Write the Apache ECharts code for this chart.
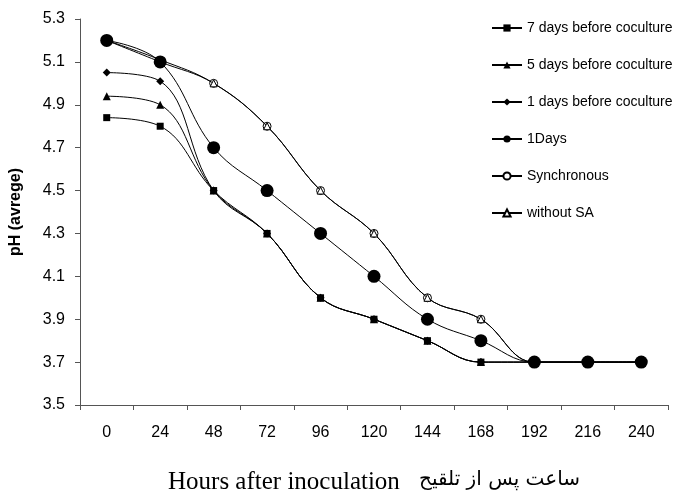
<!DOCTYPE html>
<html>
<head>
<meta charset="utf-8">
<script src="https://cdn.jsdelivr.net/npm/echarts@6/dist/echarts.min.js"></script>
<style>
  html, body { margin: 0; padding: 0; background: #fff; }
  #chart { width: 677px; height: 495px; }
</style>
</head>
<body>
<div id="chart"></div>
<script>
// Sampling times (hours after inoculation)
const hours = ['0', '24', '48', '72', '96', '120', '144', '168', '192', '216', '240'];

// Average pH per treatment
const sevenDaysBefore = [4.84, 4.80, 4.50, 4.30, 4.00, 3.90, 3.80, 3.70, 3.70, 3.70, 3.70];
const fiveDaysBefore  = [4.94, 4.90, 4.50, 4.30, 4.00, 3.90, 3.80, 3.70, 3.70, 3.70, 3.70];
const oneDayBefore    = [5.05, 5.01, 4.50, 4.30, 4.00, 3.90, 3.80, 3.70, 3.70, 3.70, 3.70];
const oneDays         = [5.20, 5.10, 4.70, 4.50, 4.30, 4.10, 3.90, 3.80, 3.70, 3.70, 3.70];
const synchronous     = [5.20, 5.10, 5.00, 4.80, 4.50, 4.30, 4.00, 3.90, 3.70, 3.70, 3.70];
const withoutSA       = [5.20, 5.11, 5.00, 4.80, 4.50, 4.30, 4.00, 3.90, 3.70, 3.70, 3.70];

const yTicks = { min: 3.5, max: 5.3, interval: 0.2 };

const SANS = 'Liberation Sans, Arial, sans-serif';

function lineSeries(name, data, symbol, size, filled, z) {
  return {
    name: name,
    type: 'line',
    data: data,
    smooth: 0.4,
    symbol: symbol,
    symbolSize: size,
    showAllSymbol: true,
    z: z,
    lineStyle: { color: '#000', width: 1 },
    itemStyle: filled
      ? { color: '#000', borderColor: '#000', borderWidth: 0 }
      : { color: '#fff', borderColor: '#000', borderWidth: 1 },
    emphasis: { disabled: true }
  };
}

const chart = echarts.init(document.getElementById('chart'), null, { renderer: 'canvas' });

chart.setOption({
  animation: false,
  backgroundColor: '#fff',
  grid: { left: 78, right: 9, top: 19, bottom: 90, containLabel: false },
  legend: {
    orient: 'vertical',
    left: 486,
    top: 16,
    itemWidth: 30,
    itemHeight: 9,
    itemGap: 23,
    icon: null,
    textStyle: { fontFamily: SANS, fontSize: 14, color: '#000' },
    data: ['7 days before coculture', '5 days before coculture', '1 days before coculture',
           '1Days', 'Synchronous', 'without SA']
  },
  xAxis: {
    type: 'category',
    data: hours,
    boundaryGap: true,
    axisLine: { lineStyle: { color: '#555', width: 1 } },
    axisTick: { show: true, length: 5, lineStyle: { color: '#555' } },
    axisLabel: { fontFamily: SANS, fontSize: 16, color: '#000', margin: 20 },
    splitLine: { show: false }
  },
  yAxis: {
    type: 'value',
    min: yTicks.min,
    max: yTicks.max,
    interval: yTicks.interval,
    name: 'pH (avrege)',
    nameLocation: 'middle',
    nameGap: 56,
    nameTextStyle: { fontFamily: SANS, fontSize: 16, fontWeight: 'bold', color: '#000' },
    axisLine: { show: true, lineStyle: { color: '#555', width: 1 } },
    axisTick: { show: true, length: 5, lineStyle: { color: '#555' } },
    axisLabel: {
      fontFamily: SANS, fontSize: 16, color: '#000', margin: 15,
      formatter: v => v.toFixed(1)
    },
    splitLine: { show: false }
  },
  graphic: [
    {
      type: 'text',
      left: 168,
      top: 470,
      style: {
        text: 'Hours after inoculation',
        font: '25px "Liberation Serif", "Times New Roman", serif',
        fill: '#000'
      }
    },
    {
      type: 'text',
      right: 97,
      top: 470,
      style: {
        text: 'ساعت پس از تلقیح',
        font: '20px "DejaVu Sans", serif',
        fill: '#000'
      }
    }
  ],
  series: [
    lineSeries('1 days before coculture', oneDayBefore, 'diamond', 8, true, 2),
    lineSeries('5 days before coculture', fiveDaysBefore, 'triangle', 8, true, 3),
    lineSeries('7 days before coculture', sevenDaysBefore, 'rect', 7, true, 4),
    lineSeries('Synchronous', synchronous, 'circle', 8, false, 5),
    lineSeries('without SA', withoutSA, 'triangle', 7, false, 6),
    lineSeries('1Days', oneDays, 'circle', 13, true, 7)
  ]
});
</script>
</body>
</html>
